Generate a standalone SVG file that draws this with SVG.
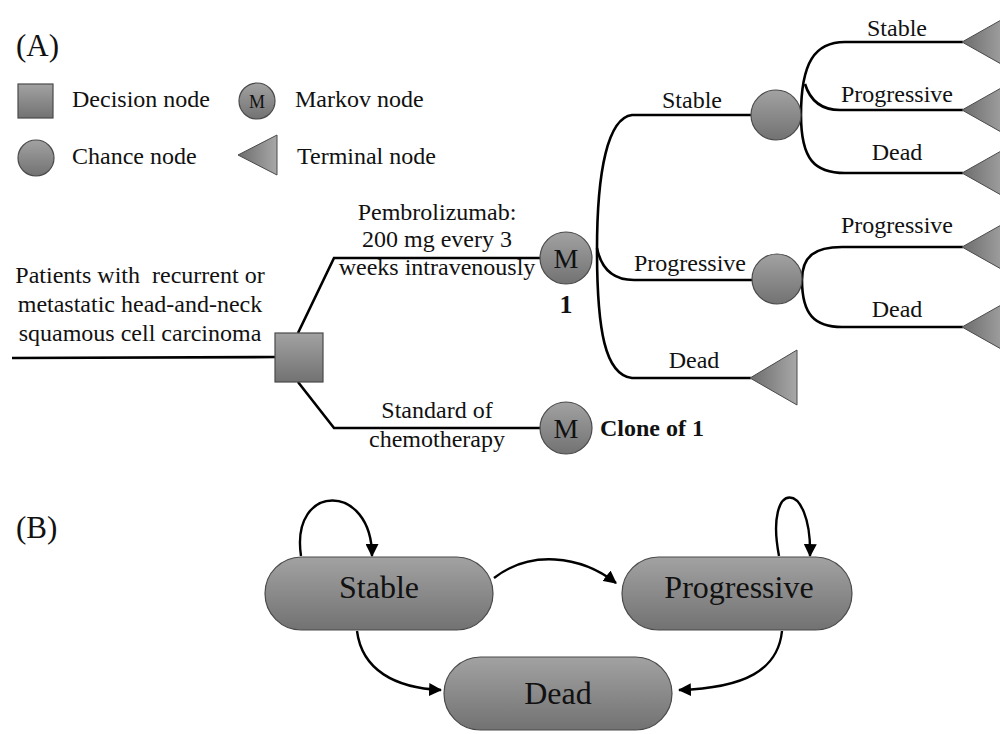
<svg xmlns="http://www.w3.org/2000/svg" width="1000" height="734" viewBox="0 0 1000 734">
<style>
text{font-family:"Liberation Serif","Times New Roman",serif;fill:#111}
.lbl{font-size:24px}
.big{font-size:31px}
.bold{font-weight:bold}
.conn{fill:none;stroke:#000;stroke-width:2.6}
.arr{fill:none;stroke:#000;stroke-width:2.4;marker-end:url(#ah)}
.shape{fill:url(#gv);stroke:#4a4a4a;stroke-width:1.2}
.tri{fill:url(#gh);stroke:#4a4a4a;stroke-width:1}
</style>
<defs>
<linearGradient id="gv" x1="0" y1="0" x2="0" y2="1">
<stop offset="0" stop-color="#a2a2a2"/><stop offset="1" stop-color="#727272"/>
</linearGradient>
<linearGradient id="gh" x1="0" y1="0" x2="1" y2="0">
<stop offset="0" stop-color="#6c6c6c"/><stop offset="1" stop-color="#a8a8a8"/>
</linearGradient>
<marker id="ah" viewBox="0 0 12 12" refX="11" refY="6" markerWidth="13" markerHeight="13" markerUnits="userSpaceOnUse" orient="auto">
<path d="M0,0 L12,6 L0,12 z" fill="#000"/>
</marker>
</defs>
<rect width="1000" height="734" fill="#fff"/>

<!-- Panel labels -->
<text x="16" y="56" class="big">(A)</text>
<text x="16" y="538" class="big">(B)</text>

<!-- Legend -->
<g id="legend">
<rect x="18" y="84" width="35" height="34" class="shape"/>
<text x="72" y="107" class="lbl">Decision node</text>
<circle cx="257" cy="101" r="18" class="shape"/>
<text x="257" y="108" text-anchor="middle" style="font-size:18px">M</text>
<text x="295" y="107" class="lbl">Markov node</text>
<circle cx="36" cy="158" r="18" class="shape"/>
<text x="72" y="164" class="lbl">Chance node</text>
<polygon points="238,155 277,135 277,175" class="tri"/>
<text x="297" y="164" class="lbl">Terminal node</text>
</g>

<!-- Connectors (tree) -->
<g id="connectors">
<path class="conn" d="M12 358 L276 357"/>
<path class="conn" d="M298 333 L334 258 L541 258"/>
<path class="conn" d="M298 382 L334 428 L541 428"/>
<path class="conn" d="M751 115 L632 115 C608 118 597 170 597 250 C597 330 605 375 632 378 L751 378"/>
<path class="conn" d="M597 248 C601 268 612 280 634 280 L753 280"/>
<path class="conn" d="M801 115 C801 62 815 42 845 42 L963 42"/>
<path class="conn" d="M801 115 C801 160 815 173 845 173 L963 173"/>
<path class="conn" d="M805 84 C810 100 820 110 840 110 L963 110"/>
<path class="conn" d="M802 280 C802 256 815 247 842 247 L963 247"/>
<path class="conn" d="M802 280 C802 315 815 327 842 327 L963 327"/>
</g>

<!-- Tree labels -->
<g id="tree-labels">
<text x="140" y="283" text-anchor="middle" class="lbl" style="white-space:pre" xml:space="preserve">Patients with  recurrent or</text>
<text x="140" y="312" text-anchor="middle" class="lbl">metastatic head-and-neck</text>
<text x="140" y="341" text-anchor="middle" class="lbl">squamous cell carcinoma</text>
<text x="437" y="220" text-anchor="middle" class="lbl">Pembrolizumab:</text>
<text x="437" y="247" text-anchor="middle" class="lbl">200 mg every 3</text>
<text x="437" y="275" text-anchor="middle" class="lbl">weeks intravenously</text>
<text x="437" y="418" text-anchor="middle" class="lbl">Standard of</text>
<text x="437" y="447" text-anchor="middle" class="lbl">chemotherapy</text>
<text x="692" y="108" text-anchor="middle" class="lbl">Stable</text>
<text x="690" y="271" text-anchor="middle" class="lbl">Progressive</text>
<text x="694" y="368" text-anchor="middle" class="lbl">Dead</text>
<text x="897" y="36" text-anchor="middle" class="lbl">Stable</text>
<text x="897" y="102" text-anchor="middle" class="lbl">Progressive</text>
<text x="897" y="160" text-anchor="middle" class="lbl">Dead</text>
<text x="897" y="233" text-anchor="middle" class="lbl">Progressive</text>
<text x="897" y="317" text-anchor="middle" class="lbl">Dead</text>
</g>

<!-- Nodes -->
<g id="decision"><rect x="275" y="333" width="48" height="49" class="shape"/></g>
<g id="markov1">
<circle cx="566" cy="258" r="26" class="shape"/>
<text x="566" y="268" text-anchor="middle" style="font-size:28px">M</text>
<text x="566" y="313" text-anchor="middle" class="bold" style="font-size:26px">1</text>
</g>
<g id="markov2">
<circle cx="566" cy="428" r="26" class="shape"/>
<text x="566" y="438" text-anchor="middle" style="font-size:28px">M</text>
<text x="600" y="436" class="lbl bold">Clone of 1</text>
</g>
<g id="chance-stable"><circle cx="776" cy="115" r="25" class="shape"/></g>
<g id="chance-progressive"><circle cx="777" cy="279" r="25" class="shape"/></g>
<g id="term-dead1"><polygon points="750,378 797,350 797,405" class="tri"/></g>
<g id="term-s-stable"><polygon points="962,42 1010,15 1010,69" class="tri"/></g>
<g id="term-s-prog"><polygon points="962,110 1010,83 1010,137" class="tri"/></g>
<g id="term-s-dead"><polygon points="962,173 1010,146 1010,200" class="tri"/></g>
<g id="term-p-prog"><polygon points="962,247 1010,220 1010,274" class="tri"/></g>
<g id="term-p-dead"><polygon points="962,327 1010,300 1010,354" class="tri"/></g>

<!-- Panel B -->
<g id="b-connectors">
<path class="arr" d="M301 556 C290 482 372 482 372 556"/>
<path class="arr" d="M779 556 C764 478 812 478 810 556"/>
<path class="arr" d="M494 578 C530 550 580 555 616 583"/>
<path class="arr" d="M357 631 C362 670 395 688 441 690"/>
<path class="arr" d="M782 631 C778 670 745 688 679 690"/>
</g>
<g id="state-stable">
<rect x="265" y="557" width="228" height="73" rx="36.5" class="shape"/>
<text x="379" y="598" text-anchor="middle" style="font-size:32px">Stable</text>
</g>
<g id="state-progressive">
<rect x="622" y="557" width="230" height="73" rx="36.5" class="shape"/>
<text x="739" y="598" text-anchor="middle" style="font-size:32px">Progressive</text>
</g>
<g id="state-dead">
<rect x="444" y="657" width="228" height="73" rx="36.5" class="shape"/>
<text x="558" y="704" text-anchor="middle" style="font-size:32px">Dead</text>
</g>
</svg>
